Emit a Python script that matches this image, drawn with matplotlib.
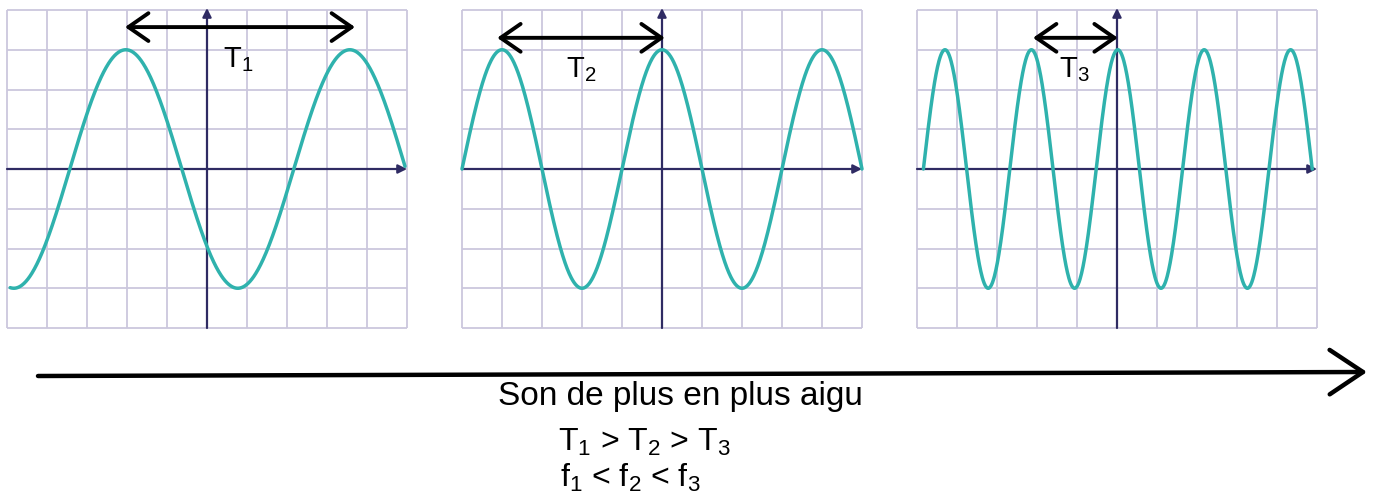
import numpy as np
import matplotlib
matplotlib.use('Agg')
import matplotlib.pyplot as plt

plt.rcParams['font.family'] = ['Liberation Sans', 'DejaVu Sans']
plt.rcParams['mathtext.fontset'] = 'custom'
plt.rcParams['mathtext.rm'] = 'Liberation Sans'

# wave parameters (grid units)
periods = [5.6, 4.0, 2.16]
peak_x = [-2.03, -4.0, 0.02]
amplitudes = [3.0, 3.0, 3.0]
x_starts = [-4.92, -5.0, -4.84]
x_ends = [4.95, 5.0, 4.88]

# period arrows (start, end, height) and labels
arrow_x0 = [-2.05, -4.12, -2.1]
arrow_x1 = [3.7, 0.07, 0.02]
arrow_y = [3.57, 3.3, 3.3]
labels = [r'$\mathregular{T_1}$', r'$\mathregular{T_2}$', r'$\mathregular{T_3}$']
label_x = [0.4, -2.4, -1.45]
label_y = [2.75, 2.5, 2.5]

caption = 'Son de plus en plus aigu'
periods_txt = r'T$\mathregular{_1}$ > T$\mathregular{_2}$ > T$\mathregular{_3}$'
freqs_txt = r'f$\mathregular{_1}$ < f$\mathregular{_2}$ < f$\mathregular{_3}$'

W, H = 1377, 499
wave_color = '#2fb2ad'
grid_color = '#cbc7dd'
axis_color = '#2f2b63'

fig = plt.figure(figsize=(W / 100, H / 100), dpi=100)

panel_left = [7, 462, 917]
for i in range(3):
    ax = fig.add_axes([panel_left[i] / W, (H - 328) / H, 400 / W, 318 / H])
    ax.set_xlim(-5, 5)
    ax.set_ylim(-4, 4)
    ax.axis('off')
    ax.vlines(np.arange(-5, 6), -4, 4, color=grid_color, lw=1.3, clip_on=False, zorder=1)
    ax.hlines(np.arange(-4, 5), -5, 5, color=grid_color, lw=1.3, clip_on=False, zorder=1)
    ax.annotate('', xy=(5, 0), xytext=(-5, 0),
                arrowprops=dict(arrowstyle='-|>', color=axis_color, lw=1.6,
                                mutation_scale=13, shrinkA=0, shrinkB=0), zorder=2)
    ax.annotate('', xy=(0, 4.05), xytext=(0, -4),
                arrowprops=dict(arrowstyle='-|>', color=axis_color, lw=1.6,
                                mutation_scale=13, shrinkA=0, shrinkB=0),
                annotation_clip=False, zorder=2)

    x = np.linspace(x_starts[i], x_ends[i], 800)
    y = amplitudes[i] * np.cos(2 * np.pi * (x - peak_x[i]) / periods[i])
    ax.plot(x, y, color=wave_color, lw=2.5, zorder=3, clip_on=False,
            solid_capstyle='round')

    ax.annotate('', xy=(arrow_x1[i], arrow_y[i]), xytext=(arrow_x0[i], arrow_y[i]),
                arrowprops=dict(arrowstyle='<->,head_length=0.72,head_width=0.5',
                                color='black', lw=2.8, mutation_scale=20,
                                shrinkA=0, shrinkB=0), annotation_clip=False, zorder=4)
    ax.text(label_x[i], label_y[i], labels[i], fontsize=21, ha='left', va='center', zorder=5)

# long arrow under the panels
fig.add_artist(matplotlib.patches.FancyArrowPatch(
    (38 / W, (H - 376) / H), (1367 / W, (H - 372) / H),
    transform=fig.transFigure, arrowstyle='->,head_length=1.2,head_width=0.8',
    mutation_scale=20, color='black', lw=3.2, shrinkA=0, shrinkB=0))

fig.text(680 / W, (H - 396) / H, caption, fontsize=24, ha='center', va='center')
fig.text(558 / W, (H - 442) / H, periods_txt, fontsize=23, ha='left', va='center')
fig.text(560 / W, (H - 478) / H, freqs_txt, fontsize=23, ha='left', va='center')

fig.savefig('out.png', dpi=100)
